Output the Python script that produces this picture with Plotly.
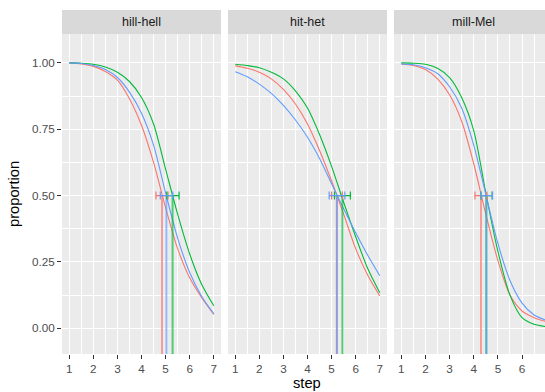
import plotly.graph_objects as go

# ---------------- data ----------------
steps = [1, 1.5, 2, 2.5, 3, 3.5, 4, 4.5, 5, 5.5, 6, 6.5, 7]
panels = ["hill-hell", "hit-het", "mill-Mel"]
groups = ["red", "green", "blue"]

# fitted proportions per panel and group
hill_red   = [1.0, 0.996, 0.987, 0.968, 0.935, 0.865, 0.765, 0.625, 0.455, 0.30, 0.19, 0.115, 0.052]
hill_green = [1.0, 0.999, 0.995, 0.985, 0.965, 0.93, 0.87, 0.77, 0.60, 0.43, 0.28, 0.165, 0.085]
hill_blue  = [1.0, 0.998, 0.99, 0.975, 0.945, 0.89, 0.81, 0.69, 0.51, 0.34, 0.21, 0.12, 0.055]

hit_red    = [0.989, 0.98, 0.965, 0.94, 0.90, 0.845, 0.77, 0.67, 0.555, 0.43, 0.30, 0.20, 0.122]
hit_green  = [0.995, 0.99, 0.982, 0.965, 0.94, 0.895, 0.83, 0.73, 0.61, 0.475, 0.345, 0.225, 0.134]
hit_blue   = [0.967, 0.948, 0.92, 0.885, 0.84, 0.785, 0.72, 0.64, 0.545, 0.45, 0.36, 0.275, 0.198]

mill_red   = [0.996, 0.99, 0.975, 0.94, 0.88, 0.78, 0.62, 0.43, 0.255, 0.125, 0.065, 0.04, 0.025]
mill_green = [1.0, 0.999, 0.995, 0.98, 0.945, 0.87, 0.745, 0.51, 0.29, 0.125, 0.04, 0.015, 0.006]
mill_blue  = [0.996, 0.993, 0.982, 0.96, 0.91, 0.83, 0.69, 0.505, 0.32, 0.18, 0.095, 0.05, 0.03]

# 50% crossover points and their confidence intervals
hill_center = [4.85, 5.29, 5.03]
hill_low    = [4.60, 5.05, 4.78]
hill_high   = [5.10, 5.56, 5.30]

hit_center  = [5.22, 5.45, 5.22]
hit_low     = [5.00, 5.12, 4.90]
hit_high    = [5.45, 5.78, 5.55]

mill_center = [4.30, 4.52, 4.52]
mill_low    = [4.05, 4.30, 4.30]
mill_high   = [4.55, 4.76, 4.78]

x_ticks = [1, 2, 3, 4, 5, 6, 7]
y_ticks = [0.0, 0.25, 0.5, 0.75, 1.0]

# ---------------- styling ----------------
colors = {"red": "#F8766D", "green": "#00BA38", "blue": "#619CFF"}
curves = [
    {"red": hill_red, "green": hill_green, "blue": hill_blue},
    {"red": hit_red, "green": hit_green, "blue": hit_blue},
    {"red": mill_red, "green": mill_green, "blue": mill_blue},
]
cis = [
    (hill_center, hill_low, hill_high),
    (hit_center, hit_low, hit_high),
    (mill_center, mill_low, mill_high),
]

W, H = 545, 392
ML, MR, MT, MB = 62, 0, 34, 38
pw = W - ML - MR
ph = H - MT - MB
# panel pixel extents
px = [(62, 221), (228, 387), (394, 545)]
domains = [[(a - ML) / pw, (b - ML) / pw] for a, b in px]
xranges = [[0.7, 7.3], [0.7, 7.3], [0.7, 6.95]]
y_range = [-0.097, 1.109]

fig = go.Figure()

for i in range(3):
    xa = "x" if i == 0 else f"x{i+1}"
    ya = "y" if i == 0 else f"y{i+1}"
    for g in groups:
        fig.add_trace(go.Scatter(
            x=steps, y=curves[i][g], mode="lines", xaxis=xa, yaxis=ya,
            line=dict(color=colors[g], width=1.1, shape="spline", smoothing=0.8),
            showlegend=False, hoverinfo="skip"))
    center, low, high = cis[i]
    for k, g in enumerate(groups):
        fig.add_trace(go.Scatter(
            x=[center[k], center[k]], y=[0.5, y_range[0] - 0.05], mode="lines",
            xaxis=xa, yaxis=ya, opacity=0.65,
            line=dict(color=colors[g], width=2),
            showlegend=False, hoverinfo="skip"))
    for k, g in enumerate(groups):
        fig.add_trace(go.Scatter(
            x=[center[k]], y=[0.5], mode="markers", xaxis=xa, yaxis=ya,
            marker=dict(size=1, color="rgba(0,0,0,0)"),
            error_x=dict(type="data", symmetric=False,
                         array=[high[k] - center[k]],
                         arrayminus=[center[k] - low[k]],
                         color=colors[g], thickness=1.2, width=4),
            showlegend=False, hoverinfo="skip"))

axis_common = dict(
    showgrid=True, gridcolor="white", gridwidth=1.3,
    zeroline=False, showline=False,
    ticks="outside", ticklen=4, tickwidth=1, tickcolor="#333333",
    tickfont=dict(family="Liberation Sans, Arial, sans-serif", size=11.7, color="#4D4D4D"),
)

layout = dict(
    width=W, height=H,
    margin=dict(l=ML, r=MR, t=MT, b=MB, pad=0),
    paper_bgcolor="white", plot_bgcolor="#EBEBEB",
    showlegend=False,
)

for i in range(3):
    key = "xaxis" if i == 0 else f"xaxis{i+1}"
    layout[key] = dict(
        axis_common, domain=domains[i], range=xranges[i],
        tickmode="array", tickvals=x_ticks,
        ticktext=[str(v) for v in x_ticks],
        anchor="y" if i == 0 else f"y{i+1}",
        minor=dict(tickmode="array", tickvals=[v + 0.5 for v in x_ticks[:-1]],
                   showgrid=True, gridcolor="white", gridwidth=0.6, ticks=""),
    )
    ykey = "yaxis" if i == 0 else f"yaxis{i+1}"
    yd = dict(
        axis_common, domain=[0, 1], range=y_range,
        tickmode="array", tickvals=y_ticks,
        ticktext=[f"{v:.2f}" for v in y_ticks],
        anchor="x" if i == 0 else f"x{i+1}",
        minor=dict(tickmode="array", tickvals=[v + 0.125 for v in y_ticks[:-1]],
                   showgrid=True, gridcolor="white", gridwidth=0.6, ticks=""),
    )
    if i > 0:
        yd["showticklabels"] = False
        yd["ticks"] = ""
    layout[ykey] = yd

fig.update_layout(**layout)

# facet strips
strip_h = 24 / ph
for i in range(3):
    xr = "x domain" if i == 0 else f"x{i+1} domain"
    fig.add_shape(type="rect", xref=xr, yref="paper", x0=0, x1=1, y0=1, y1=1 + strip_h,
                  fillcolor="#D9D9D9", line=dict(width=0), layer="below")
    cx = ((px[i][0] + 159 / 2) - ML) / pw
    fig.add_annotation(text=panels[i], xref="paper", yref="paper",
                       x=cx, y=1 + strip_h / 2, showarrow=False,
                       xanchor="center", yanchor="middle",
                       font=dict(family="Liberation Sans, Arial, sans-serif", size=12.5, color="#1A1A1A"))

# axis titles
fig.add_annotation(text="step", xref="paper", yref="paper",
                   x=(307 - ML) / pw, y=-(383 - (MT + ph)) / ph,
                   showarrow=False, xanchor="center", yanchor="middle",
                   font=dict(family="Liberation Sans, Arial, sans-serif", size=14.7, color="black"))
fig.add_annotation(text="proportion", xref="paper", yref="paper",
                   x=-(ML - 14) / pw, y=0.5, textangle=-90,
                   showarrow=False, xanchor="center", yanchor="middle",
                   font=dict(family="Liberation Sans, Arial, sans-serif", size=14.7, color="black"))

fig.write_html("out.html",
               config={"displayModeBar": False},
               post_script="document.body.style.margin='0';document.body.style.overflow='hidden';")
